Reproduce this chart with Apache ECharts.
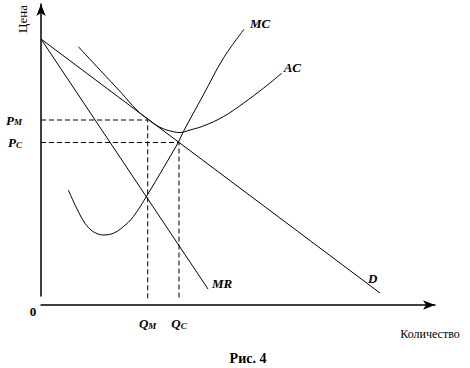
<!DOCTYPE html>
<html>
<head>
<meta charset="utf-8">
<script src="https://cdn.jsdelivr.net/npm/echarts@6/dist/echarts.min.js"></script>
<style>html,body{margin:0;padding:0;background:#fff;}#c{width:470px;height:368px;}</style>
</head>
<body>
<div id="c"></div>
<script>
// ---- data (economic units of the sketch) ----
const dLine   = [[0, 266], [339, 12]];
const mrLine  = [[0, 266], [167, 16]];
const mcCurve = [[27.3,115],[35.7,96.7],[44,81.7],[52.3,73.3],[62.3,70],[72.3,71.7],[82.3,78.3],[92.3,88.3],[106.3,110],[137.5,163],[142.3,173.3],[162.3,210],[182.3,246.7],[203,275.7]];
const acCurve = [[37.3,258.3],[59,235],[80.7,211.7],[95.7,195],[105.7,186.7],[119,177.7],[132.3,173.3],[139,172.5],[149,175],[162.3,179],[182.3,188.3],[202.3,201.7],[222.3,216.7],[240.7,231.7]];
const qValues = [106.7, 138];          // Q_M, Q_C
const qLabels = ['{q|Q}{s|M}', '{q|Q}{s|C}'];
const pValues = [185, 162.5];          // P_M, P_C
const pLabels = ['{q|P}{s|M}', '{q|P}{s|C}'];
const pmDash = [[0, pValues[0]], [qValues[0], pValues[0]], [qValues[0], 5]];
const pcDash = [[0, pValues[1]], [qValues[1], pValues[1]], [qValues[1], 5]];

const serif = 'Liberation Serif';
const rich = {
  q: {fontFamily: serif, fontSize: 13, fontStyle: 'italic', fontWeight: 'bold', color: '#000'},
  s: {fontFamily: serif, fontSize: 9, fontStyle: 'italic', fontWeight: 'bold', color: '#000', verticalAlign: 'bottom', padding: [4, 0, 0, 0]}
};
const lbl = {fontFamily: serif, fontSize: 13, fontStyle: 'italic', fontWeight: 'bold', color: '#000'};
function curve(name, data, smooth, offset) {
  return {
    type: 'line', name: name, data: data, xAxisIndex: 0, yAxisIndex: 0,
    smooth: smooth, showSymbol: false, symbol: 'none', silent: true,
    lineStyle: {color: '#000', width: 1},
    endLabel: Object.assign({show: true, formatter: name, offset: offset}, lbl)
  };
}
function dashed(data) {
  return {type: 'line', data: data, xAxisIndex: 0, yAxisIndex: 0, symbol: 'none', silent: true,
    lineStyle: {color: '#000', width: 1, type: [5, 3]}};
}
const chart = echarts.init(document.getElementById('c'), null, {renderer: 'svg'});
chart.setOption({
  animation: false,
  backgroundColor: '#fff',
  grid: [
    {left: 41, top: 5, width: 394, height: 300},
    {left: 41, top: 4, width: 10, height: 292}
  ],
  xAxis: [
    {gridIndex: 0, type: 'value', min: 0, max: 394,
      axisLine: {show: true, onZero: false, symbol: ['none', 'arrow'], symbolSize: [7, 12], lineStyle: {color: '#000', width: 1.5}},
      axisTick: {show: false}, splitLine: {show: false},
      axisLabel: {show: true, customValues: qValues, margin: 12,
        formatter: function (v) { return qLabels[qValues.indexOf(v)] || ''; }, rich: rich}},
    {gridIndex: 1, type: 'value', show: false}
  ],
  yAxis: [
    {gridIndex: 0, type: 'value', min: 0, max: 300,
      axisLine: {show: false}, axisTick: {show: false}, splitLine: {show: false},
      axisLabel: {show: true, customValues: pValues, margin: 19,
        formatter: function (v) { return pLabels[pValues.indexOf(v)] || ''; }, rich: rich}},
    {gridIndex: 1, type: 'value', min: 0, max: 1,
      axisLine: {show: true, onZero: false, symbol: ['none', 'arrow'], symbolSize: [7, 12], lineStyle: {color: '#000', width: 1.5}},
      axisTick: {show: false}, axisLabel: {show: false}, splitLine: {show: false}}
  ],
  series: [
    curve('D', dLine, false, [-20, -15]),
    curve('MR', mrLine, false, [-4, -6]),
    curve('MC', mcCurve, 0.35, [-2, -6]),
    curve('AC', acCurve, 0.4, [-6, -6]),
    dashed(pmDash),
    dashed(pcDash)
  ],
  graphic: [
    {type: 'text', left: 16, top: 5, rotation: Math.PI / 2, style: {text: 'Цена', fontFamily: serif, fontSize: 13, fill: '#000'}},
    {type: 'text', x: 33, y: 311, style: {text: '0', fontFamily: serif, fontWeight: 'bold', fontSize: 13, fill: '#000', align: 'center', verticalAlign: 'middle'}},
    {type: 'text', x: 430, y: 334, style: {text: 'Количество', fontFamily: serif, fontSize: 12, fill: '#000', align: 'center', verticalAlign: 'middle'}},
    {type: 'text', x: 248, y: 358, style: {text: 'Рис. 4', fontFamily: serif, fontWeight: 'bold', fontSize: 14, fill: '#000', align: 'center', verticalAlign: 'middle'}}
  ]
});
</script>
</body>
</html>
